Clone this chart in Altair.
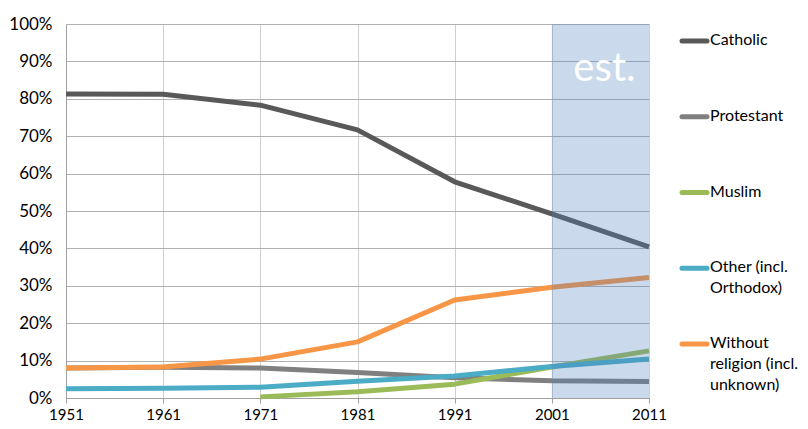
import altair as alt
import pandas as pd

years = [1951, 1961, 1971, 1981, 1991, 2001, 2011]
series_names = ["Catholic", "Protestant", "Muslim", "Other (incl.\nOrthodox)",
                "Without\nreligion (incl.\nunknown)"]
catholic = [81.3, 81.2, 78.3, 71.7, 57.8, 49.2, 40.4]
protestant = [8.0, 8.2, 8.0, 6.8, 5.4, 4.6, 4.4]
muslim = [None, None, 0.3, 1.7, 3.7, 8.3, 12.6]
other = [2.5, 2.6, 2.9, 4.5, 5.9, 8.4, 10.4]
without = [8.0, 8.3, 10.4, 15.0, 26.2, 29.6, 32.2]
colors = ["#595959", "#808080", "#9bbb59", "#4bacc6", "#f79646"]
est_start, est_end = 2001, 2011
est_label = "est."

values = [catholic, protestant, muslim, other, without]
FONT = "Lato"

rows = []
for name, vals in zip(series_names, values):
    for y, v in zip(years, vals):
        if v is not None:
            rows.append({"year": y, "value": v, "series": name})
df = pd.DataFrame(rows)

xscale = alt.Scale(domain=[1951, 2011], nice=False, zero=False)
yscale = alt.Scale(domain=[0, 100], nice=False)

xaxis = alt.Axis(values=years, format="d", title=None, grid=True, gridColor="#cfcfcf",
                 domainColor="#a0a0a0", tickColor="#a0a0a0", tickSize=5, labelFlush=False,
                 labelFont=FONT, labelFontSize=15, labelColor="#000000", labelPadding=4)
yaxis = alt.Axis(values=list(range(0, 101, 10)), labelExpr="datum.value + '%'", title=None,
                 grid=True, gridColor="#b0b0b0", domainColor="#a0a0a0", ticks=False,
                 labelFont=FONT, labelFontSize=17, labelColor="#000000", labelPadding=14)

layers = []
for i, (name, col) in enumerate(zip(series_names, colors)):
    d = df[df.series == name]
    l = alt.Chart(d).mark_line(color=col, strokeWidth=5, interpolate="linear",
                               strokeJoin="round").encode(
        x=alt.X("year:Q", scale=xscale, axis=xaxis),
        y=alt.Y("value:Q", scale=yscale, axis=yaxis),
    )
    layers.append(l)

shade_df = pd.DataFrame({"start": [est_start], "end": [est_end]})
shade = alt.Chart(shade_df).mark_rect(color="#4f81bd", opacity=0.3).encode(
    x=alt.X("start:Q", scale=xscale, axis=xaxis),
    x2="end:Q",
    y=alt.value(0),
    y2=alt.value(374),
)
est_df = pd.DataFrame({"x": [(est_start + est_end) / 2], "y": [88], "t": [est_label]})
est = alt.Chart(est_df).mark_text(color="white", font=FONT, fontSize=40, dx=4,
                                  align="center", baseline="middle").encode(
    x=alt.X("x:Q", scale=xscale, axis=xaxis),
    y=alt.Y("y:Q", scale=yscale, axis=yaxis),
    text="t:N",
)

plot = alt.layer(*layers, shade, est)

leg_df = pd.DataFrame({"series": series_names, "color": colors})
yleg = alt.Y("series:N", scale=alt.Scale(type="point", domain=series_names,
                                         range=[17, 320], padding=0), axis=None)
leg_rule = alt.Chart(leg_df).mark_rule(strokeWidth=5, strokeCap="round").encode(
    x=alt.value(616), x2=alt.value(641), y=yleg,
    color=alt.Color("color:N", scale=None),
)
leg_text = alt.Chart(leg_df).mark_text(align="left", baseline="top", dy=-9, font=FONT,
                                       fontSize=16, lineBreak="\n", lineHeight=21,
                                       color="#000000").encode(
    x=alt.value(644), y=yleg, text="series:N",
)
legend = alt.layer(leg_rule, leg_text)

chart = alt.layer(plot, legend).resolve_scale(y="independent").properties(
    width=583, height=374,
    autosize=alt.AutoSizeParams(type="none"),
    padding={"left": 58, "top": 16, "right": 151, "bottom": 25},
).configure_view(stroke=None)

chart.save("out.html", embed_options={"renderer": "svg", "actions": False})
